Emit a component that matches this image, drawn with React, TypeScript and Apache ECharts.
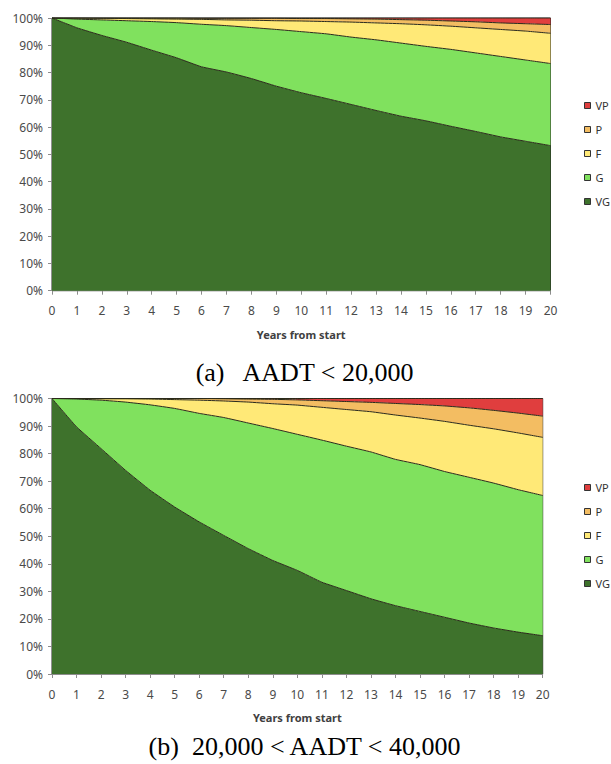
import React, { useEffect, useRef } from "react";
import * as echarts from "echarts";

const years = ["0","1","2","3","4","5","6","7","8","9","10","11","12","13","14","15","16","17","18","19","20"];
const classNames = ["VG", "G", "F", "P", "VP"];
const legendOrder = ["VP", "P", "F", "G", "VG"];
const classColors = ["#3e722c", "#80e15e", "#ffe977", "#f3bd62", "#e03e3e"];

// (a) AADT < 20,000 — share of each condition class, percent
const aVG = [100, 96.4, 93.6, 91.1, 88.2, 85.4, 82.1, 80.2, 77.8, 75.0, 72.6, 70.5, 68.3, 66.1, 64.0, 62.3, 60.3, 58.4, 56.4, 54.8, 53.2];
const aG = [0, 3.2, 5.7, 7.9, 10.5, 12.9, 15.6, 17.0, 18.7, 20.8, 22.4, 23.7, 24.7, 25.9, 26.8, 27.3, 28.2, 28.8, 29.5, 29.8, 30.1];
const aF = [0, 0.4, 0.6, 0.8, 1.0, 1.3, 1.8, 2.1, 2.7, 3.2, 3.9, 4.5, 5.5, 6.2, 7.1, 7.9, 8.5, 9.2, 9.9, 10.6, 11.1];
const aP = [0, 0, 0.1, 0.2, 0.3, 0.4, 0.4, 0.6, 0.7, 0.9, 0.9, 1.1, 1.2, 1.4, 1.5, 1.7, 1.9, 2.2, 2.4, 2.7, 3.2];
const aVP = [0, 0, 0, 0, 0, 0, 0.1, 0.1, 0.1, 0.1, 0.2, 0.2, 0.3, 0.4, 0.6, 0.8, 1.1, 1.4, 1.8, 2.1, 2.4];

// (b) 20,000 < AADT < 40,000
const bVG = [100, 89.7, 81.8, 73.9, 66.7, 60.6, 55.2, 50.3, 45.5, 41.2, 37.6, 33.3, 30.3, 27.3, 24.8, 22.7, 20.6, 18.5, 16.7, 15.2, 13.9];
const bG = [0, 10.1, 17.6, 24.8, 31.0, 35.8, 39.4, 42.8, 45.6, 47.9, 49.4, 51.6, 52.4, 53.3, 53.1, 53.3, 52.9, 52.9, 52.6, 51.7, 50.9];
const bF = [0, 0.2, 0.5, 1.2, 2.1, 3.2, 4.8, 6.0, 7.6, 9.0, 10.6, 11.9, 13.3, 14.6, 16.1, 16.9, 18.2, 18.9, 19.7, 20.6, 21.1];
const bP = [0, 0, 0.1, 0.1, 0.2, 0.4, 0.6, 0.8, 1.1, 1.6, 1.9, 2.4, 2.9, 3.4, 4.2, 4.9, 5.6, 6.3, 6.7, 7.2, 7.7];
const bVP = [0, 0, 0, 0, 0, 0, 0, 0.1, 0.2, 0.3, 0.5, 0.8, 1.1, 1.4, 1.8, 2.2, 2.7, 3.4, 4.3, 5.3, 6.4];

const yTicks = [0, 100, 10]; // min, max, interval
const captionA = "(a)\u00a0\u00a0 AADT < 20,000";
const captionB = "(b)\u00a0 20,000 < AADT < 40,000";
const xAxisTitle = "Years from start";

const tickFont = "'Noto Sans', 'DejaVu Sans', sans-serif";

function buildSeries(sets: number[][], gridIdx: number, stackName: string) {
  return sets.map((vals, i) => ({
    name: classNames[i],
    type: "line",
    xAxisIndex: gridIdx,
    yAxisIndex: gridIdx,
    stack: stackName,
    data: vals,
    symbol: "none",
    smooth: 0.1,
    lineStyle: { color: "#2a2a1a", width: 1 },
    areaStyle: { color: classColors[i], opacity: 1 },
    itemStyle: { color: classColors[i], borderColor: "#333", borderWidth: 1 },
    z: 2,
  }));
}

function xAxisCfg(gridIndex: number) {
  return {
    type: "category",
    gridIndex,
    data: years,
    boundaryGap: false,
    name: xAxisTitle,
    nameLocation: "middle",
    nameGap: 38,
    nameTextStyle: { fontFamily: tickFont, fontSize: 11, fontWeight: "bold", color: "#404040" },
    axisLine: { show: true, lineStyle: { color: "#8c8c8c", width: 1 } },
    axisTick: { show: true, alignWithLabel: true, length: 4, lineStyle: { color: "#8c8c8c" } },
    axisLabel: { margin: 14, fontFamily: tickFont, fontSize: 12, color: "#4a4a4a", interval: 0 },
    splitLine: { show: false },
  };
}

function yAxisCfg(gridIndex: number) {
  return {
    type: "value",
    gridIndex,
    min: yTicks[0],
    max: yTicks[1],
    interval: yTicks[2],
    axisLine: { show: true, lineStyle: { color: "#8c8c8c", width: 1 } },
    axisTick: { show: true, length: 4, lineStyle: { color: "#8c8c8c" } },
    axisLabel: { margin: 9, fontFamily: tickFont, fontSize: 12, color: "#4a4a4a", formatter: "{value}%" },
    splitLine: { show: false },
  };
}

function legendCfg(left: number, top: number) {
  return {
    orient: "vertical",
    left,
    top,
    padding: 0,
    data: legendOrder,
    icon: "rect",
    itemWidth: 6,
    itemHeight: 6,
    itemGap: 13,
    selectedMode: false,
    textStyle: { fontFamily: tickFont, fontSize: 11, color: "#333" },
    itemStyle: { borderColor: "#333", borderWidth: 1 },
  };
}

export default function App() {
  const ref = useRef<HTMLDivElement>(null);
  useEffect(() => {
    if (!ref.current) return;
    const chart = echarts.init(ref.current, undefined, { renderer: "svg" });
    chart.setOption({
      animation: false,
      backgroundColor: "#ffffff",
      grid: [
        { left: 52, top: 18, width: 498.5, height: 272.7, show: true, borderColor: "#222", borderWidth: 1, backgroundColor: "transparent" },
        { left: 52, top: 398.5, width: 490.7, height: 275.5, show: true, borderColor: "#222", borderWidth: 1, backgroundColor: "transparent" },
      ],
      xAxis: [xAxisCfg(0), xAxisCfg(1)],
      yAxis: [yAxisCfg(0), yAxisCfg(1)],
      legend: [legendCfg(584, 100), legendCfg(584, 482)],
      series: [
        ...buildSeries([aVG, aG, aF, aP, aVP], 0, "a"),
        ...buildSeries([bVG, bG, bF, bP, bVP], 1, "b"),
      ],
      graphic: [
        {
          type: "text",
          left: "center",
          top: 359,
          style: { text: captionA, font: "26px 'Liberation Serif', 'Times New Roman', serif", fill: "#000" },
        },
        {
          type: "text",
          left: "center",
          top: 733,
          style: { text: captionB, font: "26px 'Liberation Serif', 'Times New Roman', serif", fill: "#000" },
        },
      ],
    });
    return () => chart.dispose();
  }, []);
  return (
    <div
      ref={ref}
      style={{ position: "fixed", left: 0, top: 0, width: 611, height: 764 }}
    />
  );
}
